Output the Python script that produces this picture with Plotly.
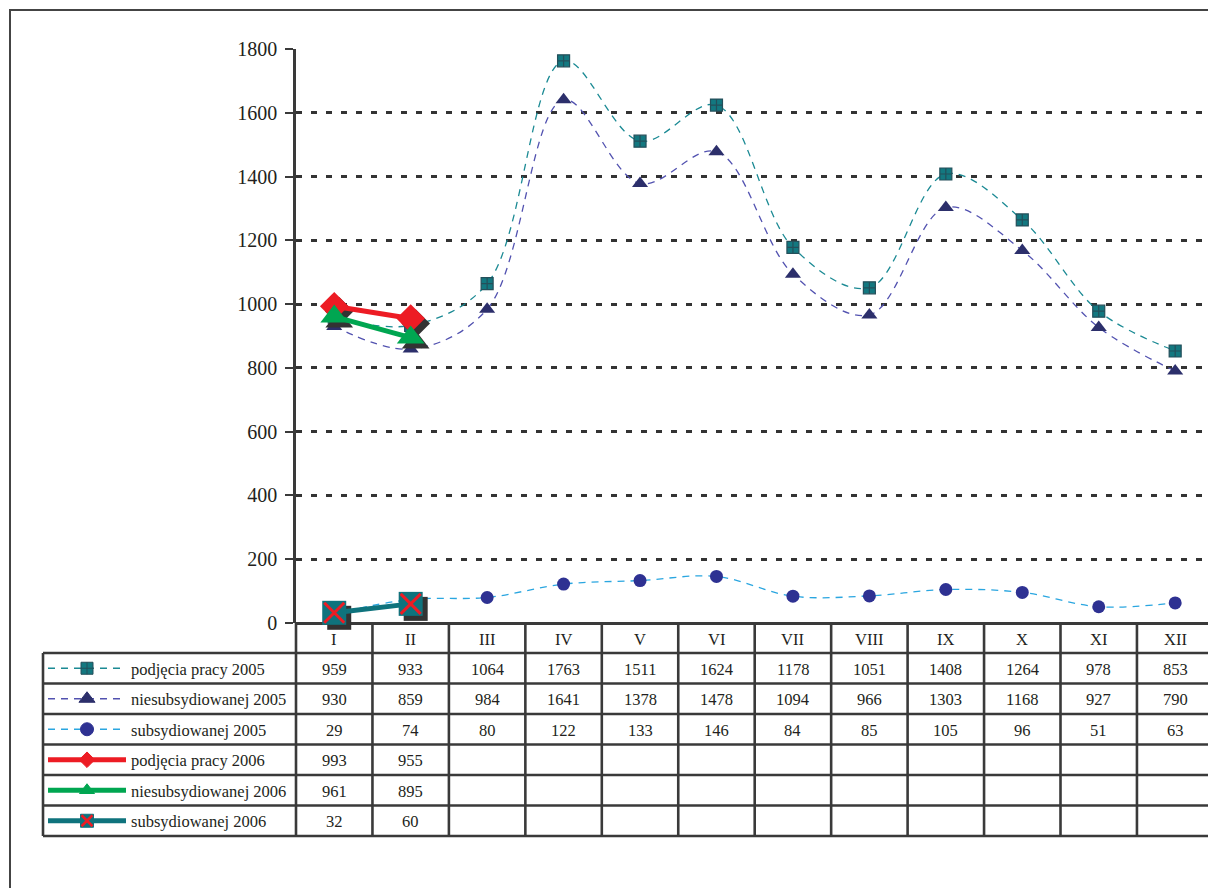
import plotly.graph_objects as go

months = ["I", "II", "III", "IV", "V", "VI", "VII", "VIII", "IX", "X", "XI", "XII"]
podjecia_2005 = [959, 933, 1064, 1763, 1511, 1624, 1178, 1051, 1408, 1264, 978, 853]
niesub_2005 = [930, 859, 984, 1641, 1378, 1478, 1094, 966, 1303, 1168, 927, 790]
sub_2005 = [29, 74, 80, 122, 133, 146, 84, 85, 105, 96, 51, 63]
podjecia_2006 = [993, 955]
niesub_2006 = [961, 895]
sub_2006 = [32, 60]
y_ticks = [0, 200, 400, 600, 800, 1000, 1200, 1400, 1600, 1800]

series_names = ["podjęcia pracy 2005", "niesubsydiowanej 2005", "subsydiowanej 2005",
                "podjęcia pracy 2006", "niesubsydiowanej 2006", "subsydiowanej 2006"]
series_values = [podjecia_2005, niesub_2005, sub_2005, podjecia_2006, niesub_2006, sub_2006]

W, H = 1208, 888
FONT = "Liberation Serif"
DARK = "#3a3a3a"
TXT = "#231f20"
TFS = 16.5  # table font size
DASH05 = "7px,6px"

C_POD05 = "#1b8a94"
C_NIE05_LINE = "#5252b0"
C_SUB05_LINE = "#2aa6e0"
C_SQ05 = "#137880"
C_TRI05 = "#2c2f6b"
C_CIR05 = "#2e3192"
C_RED = "#ed1c24"
C_GREEN = "#00a651"
C_TEAL06 = "#0f737d"
C_SHADOW = "#333333"

# geometry (pixels)
X0 = 296
COLW = 76.45
Y_ZERO, Y_TOP = 623, 49
ROWS = [653, 683.5, 714, 744.5, 775, 805.5, 836]
TABLE_LEFT = 43
SH = 5  # shadow offset px


def px(x):
    return x / W


def py(y):
    return 1 - y / H


x_range = [-0.5, -0.5 + (W - X0) / COLW]
y_range = [0, 1800]
ppu = (Y_ZERO - Y_TOP) / 1800.0

fig = go.Figure()

# 2005 series (smoothed dashed)
fig.add_trace(go.Scatter(x=months, y=podjecia_2005, name=series_names[0], mode="lines+markers",
                         line=dict(color=C_POD05, width=1.3, dash=DASH05, shape="spline", smoothing=1),
                         marker=dict(symbol="square-cross", size=12, color=C_SQ05,
                                     line=dict(color="#244f5a", width=1.2)),
                         cliponaxis=False, xaxis="x", yaxis="y"))
fig.add_trace(go.Scatter(x=months, y=niesub_2005, name=series_names[1], mode="lines+markers",
                         line=dict(color=C_NIE05_LINE, width=1.3, dash=DASH05, shape="spline", smoothing=1),
                         marker=dict(symbol="triangle-up", size=14, color=C_TRI05),
                         cliponaxis=False, xaxis="x", yaxis="y"))
fig.add_trace(go.Scatter(x=months, y=sub_2005, name=series_names[2], mode="lines+markers",
                         line=dict(color=C_SUB05_LINE, width=1.3, dash=DASH05, shape="spline", smoothing=1),
                         marker=dict(symbol="circle", size=13, color=C_CIR05),
                         cliponaxis=False, xaxis="x", yaxis="y"))

# shadows for 2006 markers (shifted axes)
for vals, sym, size in [(podjecia_2006, "diamond", 22), (niesub_2006, "triangle-up", 24), (sub_2006, "square", 24)]:
    fig.add_trace(go.Scatter(x=months[:len(vals)], y=vals, mode="markers", showlegend=False, hoverinfo="skip",
                             marker=dict(symbol=sym, size=size, color=C_SHADOW),
                             cliponaxis=False, xaxis="x3", yaxis="y3"))

# 2006 series
fig.add_trace(go.Scatter(x=months[:2], y=podjecia_2006, name=series_names[3], mode="lines+markers",
                         line=dict(color=C_RED, width=5),
                         marker=dict(symbol="diamond", size=22, color=C_RED),
                         cliponaxis=False, xaxis="x4", yaxis="y4"))
fig.add_trace(go.Scatter(x=months[:2], y=niesub_2006, name=series_names[4], mode="lines+markers",
                         line=dict(color=C_GREEN, width=5),
                         marker=dict(symbol="triangle-up", size=24, color=C_GREEN),
                         cliponaxis=False, xaxis="x4", yaxis="y4"))
fig.add_trace(go.Scatter(x=months[:2], y=sub_2006, name=series_names[5], mode="lines+markers",
                         line=dict(color=C_TEAL06, width=5),
                         marker=dict(symbol="square", size=24, color=C_TEAL06),
                         cliponaxis=False, xaxis="x4", yaxis="y4"))
fig.add_trace(go.Scatter(x=months[:2], y=sub_2006, mode="markers", showlegend=False, hoverinfo="skip",
                         marker=dict(symbol="x-thin", size=20, color=C_RED, line=dict(color=C_RED, width=3)),
                         cliponaxis=False, xaxis="x4", yaxis="y4"))

# legend samples inside the table (pixel overlay axes)
shapes = []
legend_specs = [
    dict(color=C_POD05, width=1.3, dash=DASH05, sym="square-cross", msize=12, mcolor=C_SQ05, mline="#244f5a"),
    dict(color=C_NIE05_LINE, width=1.3, dash=DASH05, sym="triangle-up", msize=14, mcolor=C_TRI05, mline=C_TRI05),
    dict(color=C_SUB05_LINE, width=1.3, dash=DASH05, sym="circle", msize=13, mcolor=C_CIR05, mline=C_CIR05),
    dict(color=C_RED, width=5, dash="solid", sym="diamond", msize=12, mcolor=C_RED, mline=C_RED),
    dict(color=C_GREEN, width=5, dash="solid", sym="triangle-up", msize=13, mcolor=C_GREEN, mline=C_GREEN),
    dict(color=C_TEAL06, width=5, dash="solid", sym="square", msize=13, mcolor=C_TEAL06, mline=C_TEAL06),
]
for i, spec in enumerate(legend_specs):
    yc = (ROWS[i] + ROWS[i + 1]) / 2
    fig.add_trace(go.Scatter(x=[48, 126], y=[yc, yc], mode="lines", showlegend=False, hoverinfo="skip",
                             line=dict(color=spec["color"], width=spec["width"], dash=spec["dash"]),
                             xaxis="x2", yaxis="y2"))
    fig.add_trace(go.Scatter(x=[87], y=[yc], mode="markers", showlegend=False, hoverinfo="skip",
                             marker=dict(symbol=spec["sym"], size=spec["msize"], color=spec["mcolor"],
                                         line=dict(color=spec["mline"], width=1)),
                             xaxis="x2", yaxis="y2"))
    if i == 5:
        fig.add_trace(go.Scatter(x=[87], y=[yc], mode="markers", showlegend=False, hoverinfo="skip",
                                 marker=dict(symbol="x-thin", size=11, color=C_RED,
                                             line=dict(color=C_RED, width=2.5)),
                                 xaxis="x2", yaxis="y2"))

# table grid
LW = 2.6
for k in range(13):
    xx = X0 + k * COLW
    shapes.append(dict(type="line", xref="paper", yref="paper", x0=px(xx), x1=px(xx),
                       y0=py(Y_ZERO), y1=py(ROWS[-1]), line=dict(color=DARK, width=LW)))
for r in ROWS:
    shapes.append(dict(type="line", xref="paper", yref="paper", x0=px(TABLE_LEFT), x1=1.0,
                       y0=py(r), y1=py(r), line=dict(color=DARK, width=LW)))
shapes.append(dict(type="line", xref="paper", yref="paper", x0=px(TABLE_LEFT), x1=px(TABLE_LEFT),
                   y0=py(ROWS[0]), y1=py(ROWS[-1]), line=dict(color=DARK, width=LW)))
# outer frame
shapes.append(dict(type="rect", xref="paper", yref="paper", x0=px(10), x1=1.02, y0=-0.02, y1=py(10),
                   line=dict(color="#444444", width=2), fillcolor="rgba(0,0,0,0)"))

annotations = []
# month header labels
for m in months:
    annotations.append(dict(x=m, y=py((Y_ZERO + ROWS[0]) / 2 + 1), xref="x", yref="paper", text=m,
                            showarrow=False, font=dict(family=FONT, size=TFS, color=TXT),
                            xanchor="center", yanchor="middle"))
# row labels and values
for i, (name, vals) in enumerate(zip(series_names, series_values)):
    yc = (ROWS[i] + ROWS[i + 1]) / 2 + 1
    annotations.append(dict(x=px(129), y=py(yc), xref="paper", yref="paper", text=name, showarrow=False,
                            font=dict(family=FONT, size=TFS, color=TXT), xanchor="left", yanchor="middle"))
    for m, v in zip(months, vals):
        annotations.append(dict(x=m, y=py(yc), xref="x", yref="paper", text=str(v), showarrow=False,
                                font=dict(family=FONT, size=TFS, color=TXT),
                                xanchor="center", yanchor="middle"))

dom_x = [px(X0), 1.0]
dom_y = [py(Y_ZERO), py(Y_TOP)]
shift_x = SH / COLW
shift_y = SH / ppu

fig.update_layout(
    width=W, height=H,
    margin=dict(l=0, r=0, t=0, b=0, pad=0, autoexpand=False),
    paper_bgcolor="white",
    plot_bgcolor="rgba(0,0,0,0)",
    showlegend=False,
    shapes=shapes,
    annotations=annotations,
    xaxis=dict(domain=dom_x, type="category", categoryorder="array", categoryarray=months,
               range=x_range, showgrid=False, showticklabels=False, ticks="", zeroline=False,
               showline=False, fixedrange=True, automargin=False),
    yaxis=dict(domain=dom_y, range=y_range, tickvals=y_ticks, showgrid=True, gridcolor="#333333",
               gridwidth=3, griddash="6px,9px", zeroline=True, zerolinecolor=DARK, zerolinewidth=2.6,
               showline=True, linecolor=DARK, linewidth=2.6, ticks="outside", ticklen=8, tickwidth=2,
               tickcolor=DARK, ticklabelstandoff=4, automargin=False,
               tickfont=dict(family=FONT, size=20, color=TXT), fixedrange=True),
    xaxis3=dict(overlaying="x", type="category", categoryorder="array", categoryarray=months,
                range=[x_range[0] - shift_x, x_range[1] - shift_x], visible=False, automargin=False),
    yaxis3=dict(overlaying="y", range=[y_range[0] + shift_y, y_range[1] + shift_y], visible=False,
                automargin=False),
    xaxis4=dict(overlaying="x", type="category", categoryorder="array", categoryarray=months,
                range=x_range, visible=False, automargin=False),
    yaxis4=dict(overlaying="y", range=y_range, visible=False, automargin=False),
    xaxis2=dict(domain=[0, 1], range=[0, W], visible=False, anchor="y2", automargin=False),
    yaxis2=dict(domain=[0, 1], range=[H, 0], visible=False, anchor="x2", automargin=False),
)

fig.write_html("out.html", config={"displayModeBar": False},
               post_script="document.body.style.margin='0';document.body.style.overflow='hidden';")
